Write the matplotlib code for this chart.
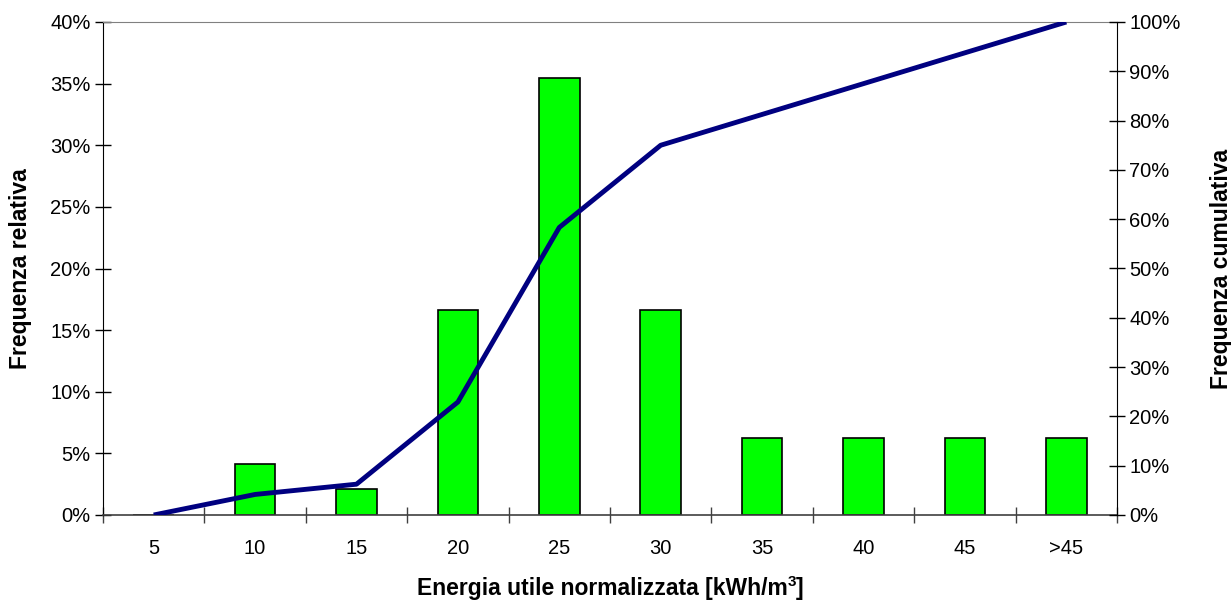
import matplotlib
matplotlib.use("Agg")
import matplotlib.pyplot as plt
from matplotlib.ticker import FuncFormatter, MultipleLocator, FixedLocator
import numpy as np

plt.rcParams['font.family'] = ['Liberation Sans', 'DejaVu Sans']

categories = ['5', '10', '15', '20', '25', '30', '35', '40', '45', '>45']
rel_freq = [0.0, 4.17, 2.08, 16.67, 35.42, 16.67, 6.25, 6.25, 6.25, 6.25]
cum_freq = [0.0, 4.17, 6.25, 22.92, 58.33, 75.0, 81.25, 87.5, 93.75, 100.0]

fig = plt.figure(figsize=(12.31, 6.0), dpi=100)
ax = fig.add_axes([103/1231, 1 - 515/600, (1117-103)/1231, (515-22)/600])
x = np.arange(len(categories))

ax.bar(x, rel_freq, width=0.4, color='#00FF00', edgecolor='black', linewidth=1.2, zorder=2)
ax.set_xlim(-0.5, len(categories) - 0.5)
ax.set_ylim(0, 40)
ax.yaxis.set_major_locator(MultipleLocator(5))
ax.yaxis.set_major_formatter(FuncFormatter(lambda v, p: f"{v:.0f}%"))
ax.set_xticks(x)
ax.set_xticklabels(categories)
ax.xaxis.set_minor_locator(FixedLocator(np.arange(-0.5, len(categories), 1.0)))
ax.tick_params(axis='x', which='major', length=0, pad=17, labelsize=14.5)
ax.tick_params(axis='x', which='minor', length=12, direction='inout', width=1, color='#404040')
ax.tick_params(axis='y', length=12, direction='inout', width=1, labelsize=14.5, pad=3)

ax.spines['top'].set_color('#808080')
ax.spines['right'].set_visible(False)
ax.spines['left'].set_color('black')
ax.spines['bottom'].set_color('#404040')
ax.spines['bottom'].set_linewidth(1.2)

ax.set_ylabel('Frequenza relativa', fontsize=16.5, fontweight='bold')
ax.yaxis.set_label_coords(-0.07, 0.5)
ax.set_xlabel('')

# x-axis label with a small superscript, centred as a whole
t1 = ax.text(0, 0, 'Energia utile normalizzata [kWh/m', transform=ax.transAxes,
             ha='left', va='top', fontsize=16.5, fontweight='bold')
t2 = ax.text(0, 0, '3', transform=ax.transAxes, ha='left', va='top', fontsize=11, fontweight='bold')
t3 = ax.text(0, 0, ']', transform=ax.transAxes, ha='left', va='top', fontsize=16.5, fontweight='bold')
fig.canvas.draw()
r = fig.canvas.get_renderer()
w1 = t1.get_window_extent(r).width
w2 = t2.get_window_extent(r).width
w3 = t3.get_window_extent(r).width
axw = ax.get_window_extent(r).width
axh = ax.get_window_extent(r).height
total = w1 + w2 + w3
x0 = 0.5 - total / 2 / axw
ytop = -0.126
t1.set_position((x0, ytop))
t2.set_position((x0 + w1 / axw, ytop + 2 / axh))
t3.set_position((x0 + (w1 + w2) / axw, ytop))

ax2 = ax.twinx()
ax2.plot(x, cum_freq, color='#000080', linewidth=3.5, zorder=3, solid_capstyle='butt')
ax2.set_ylim(0, 100)
ax2.yaxis.set_major_locator(MultipleLocator(10))
ax2.yaxis.set_major_formatter(FuncFormatter(lambda v, p: f"{v:.0f}%"))
ax2.tick_params(axis='y', length=12, direction='inout', width=1, labelsize=14.5, pad=3)
ax2.spines['top'].set_visible(False)
ax2.spines['left'].set_visible(False)
ax2.spines['bottom'].set_visible(False)
ax2.spines['right'].set_color('black')
ax2.set_ylabel('Frequenza cumulativa', fontsize=16.5, fontweight='bold')
ax2.yaxis.set_label_coords(1.092, 0.5)

fig.savefig('out.png', dpi=100)
